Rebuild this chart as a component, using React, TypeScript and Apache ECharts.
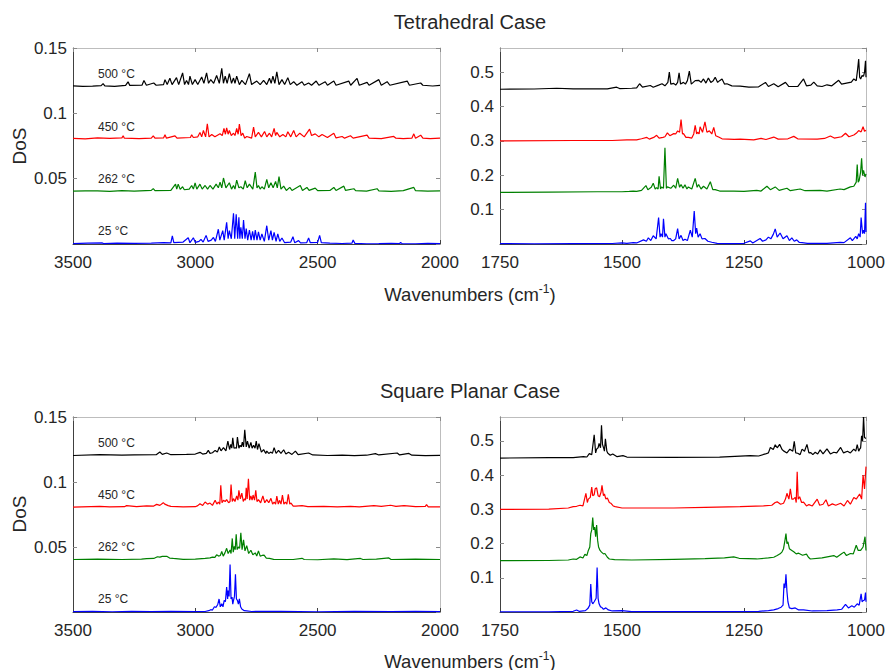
import { useEffect, useRef } from 'react';
import * as echarts from 'echarts';

const FONT = '"Liberation Sans", Arial, Helvetica, sans-serif';

const tempLabels = ['25 °C', '262 °C', '450 °C', '500 °C'];
const traceColors = ['#0000ff', '#008000', '#ff0000', '#000000'];
const offsetsCH = [0, 0.04, 0.08, 0.12];
const offsetsFP = [0, 0.15, 0.3, 0.45];
const xTicksCH = [3500, 3000, 2500, 2000];
const xTicksFP = [1750, 1500, 1250, 1000];
const yTicksCH = [0.05, 0.1, 0.15];
const yTicksFP = [0.1, 0.2, 0.3, 0.4, 0.5];
const titles = ['Tetrahedral Case', 'Square Planar Case'];

// ---------- Tetrahedral, C-H region (3500-2000) ----------
const tetCH25 = [[3500,0.0003],[3440,0.0006],[3380,0.0008],[3375,0.0003],[3320,0.0006],[3250,0.0005],[3180,0.0006],[3130,0.001],[3100,0.0008],[3094,0.0062],[3088,0.001],[3050,0.0015],[3029,0.0048],[3022,0.001],[3008,0.0048],[3000,0.0012],[2985,0.002],[2977,0.0036],[2968,0.0015],[2956,0.0066],[2948,0.002],[2935,0.003],[2926,0.005],[2918,0.002],[2906,0.0113],[2900,0.003],[2888,0.0102],[2882,0.003],[2872,0.0166],[2866,0.004],[2861,0.0102],[2853,0.004],[2844,0.0235],[2839,0.004],[2833,0.0228],[2827,0.004],[2822,0.0205],[2818,0.004],[2814,0.0128],[2808,0.004],[2803,0.0184],[2797,0.004],[2792,0.0118],[2786,0.003],[2779,0.0107],[2772,0.003],[2766,0.0097],[2760,0.003],[2755,0.0107],[2748,0.003],[2742,0.0092],[2735,0.003],[2728,0.0077],[2718,0.002],[2708,0.014],[2700,0.003],[2691,0.0102],[2685,0.003],[2678,0.0089],[2670,0.002],[2663,0.0077],[2655,0.002],[2646,0.0046],[2635,0.001],[2610,0.0015],[2601,0.0056],[2594,0.001],[2578,0.0026],[2570,0.0008],[2545,0.001],[2537,0.0046],[2530,0.001],[2500,0.0012],[2492,0.0066],[2485,0.001],[2450,0.0006],[2400,0.0004],[2360,0.0006],[2355,0.003],[2348,0.0005],[2300,0.0002],[2250,0.0003],[2200,0.0005],[2165,0.0004],[2161,0.0012],[2155,0.0003],[2100,0.0002],[2050,0.0005],[2000,0.0003]];
const tetCH262 = [[3500,0.0004],[3450,0.0007],[3400,0.0006],[3350,0.0003],[3300,0.0008],[3250,0.0004],[3180,0.001],[3172,0.0024],[3165,0.0008],[3100,0.001],[3081,0.0058],[3076,0.002],[3070,0.0058],[3062,0.0018],[3052,0.0038],[3045,0.0015],[3025,0.002],[3015,0.0048],[3008,0.002],[3001,0.0068],[2994,0.002],[2981,0.0058],[2972,0.002],[2960,0.0048],[2950,0.002],[2940,0.0048],[2928,0.002],[2915,0.0058],[2906,0.003],[2899,0.0074],[2892,0.003],[2885,0.0105],[2875,0.003],[2861,0.0069],[2852,0.002],[2844,0.0048],[2838,0.002],[2831,0.0089],[2822,0.003],[2814,0.0038],[2804,0.002],[2796,0.0084],[2788,0.003],[2779,0.0058],[2765,0.002],[2755,0.015],[2748,0.003],[2742,0.0048],[2735,0.002],[2728,0.0038],[2718,0.002],[2708,0.0095],[2700,0.003],[2691,0.0069],[2682,0.003],[2672,0.0079],[2665,0.003],[2658,0.0115],[2650,0.002],[2639,0.0043],[2628,0.001],[2614,0.0033],[2605,0.001],[2571,0.0048],[2562,0.001],[2544,0.0033],[2535,0.001],[2510,0.0028],[2500,0.0008],[2450,0.001],[2434,0.0033],[2425,0.001],[2393,0.0043],[2386,0.001],[2352,0.0023],[2345,0.0008],[2300,0.0005],[2257,0.0023],[2250,0.0006],[2200,0.0003],[2150,0.0008],[2107,0.0033],[2100,0.0008],[2050,0.0004],[2000,0.0006]];
const tetCH450 = [[3500,0.0008],[3450,0.0005],[3400,0.0012],[3350,0.0008],[3300,0.0012],[3295,0.0028],[3290,0.001],[3230,0.0007],[3180,0.001],[3172,0.0028],[3165,0.001],[3130,0.0012],[3124,0.0036],[3118,0.001],[3083,0.0028],[3075,0.001],[3020,0.0015],[3015,0.0036],[3008,0.0015],[2990,0.002],[2981,0.0054],[2974,0.002],[2967,0.0069],[2958,0.002],[2951,0.012],[2944,0.002],[2933,0.0038],[2920,0.002],[2899,0.0043],[2890,0.003],[2883,0.0084],[2877,0.004],[2872,0.0089],[2866,0.004],[2861,0.0069],[2853,0.003],[2844,0.0048],[2838,0.003],[2831,0.0084],[2825,0.004],[2820,0.0117],[2813,0.003],[2806,0.0048],[2798,0.001],[2790,0.0023],[2770,0.001],[2762,0.0094],[2755,0.002],[2742,0.0054],[2730,0.002],[2717,0.0061],[2708,0.002],[2697,0.0048],[2688,0.002],[2678,0.0084],[2672,0.003],[2667,0.0054],[2655,0.002],[2642,0.0038],[2630,0.002],[2622,0.0059],[2610,0.002],[2598,0.0069],[2588,0.002],[2573,0.0048],[2555,0.002],[2533,0.0079],[2525,0.003],[2510,0.0043],[2495,0.002],[2482,0.0038],[2460,0.0015],[2434,0.0048],[2425,0.0012],[2400,0.0023],[2390,0.001],[2366,0.0028],[2355,0.001],[2298,0.0033],[2290,0.001],[2240,0.0007],[2189,0.0023],[2180,0.001],[2150,0.0006],[2115,0.001],[2107,0.0043],[2100,0.001],[2079,0.0033],[2070,0.001],[2040,0.0006],[2000,0.001]];
const tetCH500 = [[3500,0.001],[3460,0.0006],[3420,0.0008],[3385,0.0012],[3377,0.0027],[3370,0.001],[3330,0.0007],[3285,0.0014],[3275,0.0041],[3268,0.0014],[3218,0.0015],[3210,0.0052],[3200,0.0015],[3170,0.0032],[3160,0.0015],[3130,0.002],[3124,0.0058],[3115,0.002],[3104,0.0068],[3095,0.002],[3077,0.0073],[3068,0.002],[3052,0.0109],[3044,0.002],[3036,0.0052],[3028,0.002],[3022,0.0084],[3012,0.002],[3001,0.0058],[2990,0.002],[2974,0.0078],[2965,0.003],[2954,0.0109],[2946,0.003],[2937,0.0058],[2925,0.003],[2913,0.009],[2902,0.003],[2892,0.0144],[2885,0.003],[2878,0.0084],[2870,0.003],[2861,0.0104],[2852,0.003],[2844,0.007],[2838,0.003],[2831,0.0084],[2820,0.002],[2810,0.0052],[2795,0.002],[2779,0.0104],[2770,0.002],[2749,0.0047],[2735,0.002],[2721,0.0052],[2708,0.002],[2697,0.0068],[2690,0.003],[2683,0.0084],[2675,0.003],[2667,0.0117],[2658,0.002],[2646,0.0058],[2635,0.002],[2622,0.0073],[2612,0.002],[2598,0.0042],[2585,0.0015],[2564,0.0042],[2555,0.0015],[2537,0.0032],[2525,0.0015],[2506,0.0047],[2495,0.0015],[2469,0.0042],[2460,0.0015],[2434,0.0047],[2425,0.0015],[2373,0.0047],[2365,0.0015],[2339,0.0068],[2330,0.0015],[2298,0.0037],[2290,0.0015],[2250,0.0058],[2240,0.0015],[2216,0.0042],[2205,0.0015],[2134,0.0047],[2125,0.0015],[2079,0.0032],[2070,0.0015],[2030,0.0009],[2000,0.0014]];

// ---------- Tetrahedral, fingerprint region (1750-1000) ----------
const tetFP25 = [[1750,0.001],[1680,0.0005],[1600,0.001],[1520,0.0015],[1500,0.003],[1490,0.002],[1477,0.004],[1470,0.003],[1456,0.012],[1450,0.008],[1446,0.018],[1441,0.01],[1436,0.024],[1430,0.015],[1425,0.077],[1422,0.02],[1420,0.03],[1417,0.02],[1415,0.073],[1412,0.02],[1410,0.03],[1405,0.015],[1401,0.016],[1398,0.01],[1394,0.01],[1390,0.015],[1386,0.045],[1383,0.015],[1379,0.025],[1375,0.01],[1371,0.014],[1366,0.01],[1360,0.04],[1356,0.02],[1352,0.096],[1349,0.03],[1347,0.046],[1344,0.02],[1340,0.03],[1336,0.015],[1330,0.016],[1324,0.008],[1316,0.005],[1305,0.002],[1280,0.001],[1250,0.002],[1237,0.009],[1232,0.003],[1217,0.016],[1212,0.008],[1205,0.012],[1200,0.02],[1195,0.015],[1190,0.028],[1186,0.044],[1182,0.02],[1176,0.032],[1170,0.015],[1162,0.024],[1157,0.01],[1152,0.018],[1147,0.008],[1142,0.012],[1137,0.005],[1131,0.004],[1120,0.002],[1080,0.002],[1053,0.005],[1045,0.004],[1032,0.018],[1028,0.01],[1021,0.022],[1018,0.015],[1015,0.03],[1012,0.02],[1010,0.077],[1007,0.03],[1005,0.04],[1003,0.03],[1001,0.12],[1000,0.035]];
const tetFP262 = [[1750,0.0],[1650,0.001],[1550,0.002],[1500,0.002],[1485,0.003],[1477,0.004],[1470,0.003],[1460,0.006],[1451,0.02],[1447,0.008],[1440,0.015],[1436,0.027],[1432,0.01],[1429,0.014],[1426,0.01],[1424,0.047],[1421,0.01],[1419,0.016],[1415,0.012],[1412,0.13],[1409,0.012],[1407,0.016],[1400,0.012],[1394,0.021],[1390,0.012],[1386,0.041],[1382,0.015],[1379,0.023],[1375,0.012],[1371,0.022],[1367,0.01],[1364,0.016],[1357,0.01],[1350,0.041],[1346,0.015],[1343,0.023],[1338,0.01],[1333,0.018],[1326,0.01],[1319,0.031],[1314,0.008],[1309,0.008],[1300,0.004],[1271,0.004],[1250,0.003],[1224,0.006],[1215,0.004],[1203,0.018],[1196,0.008],[1186,0.016],[1178,0.006],[1162,0.012],[1155,0.005],[1135,0.01],[1125,0.005],[1094,0.006],[1080,0.004],[1053,0.01],[1045,0.008],[1032,0.016],[1025,0.018],[1020,0.03],[1018,0.081],[1016,0.03],[1014,0.035],[1011,0.06],[1009,0.099],[1007,0.05],[1005,0.064],[1002,0.045],[1000,0.054]];
const tetFP450 = [[1750,0.0],[1600,0.001],[1520,0.001],[1490,0.003],[1470,0.003],[1460,0.006],[1449,0.01],[1444,0.005],[1435,0.01],[1429,0.016],[1424,0.008],[1416,0.01],[1412,0.012],[1407,0.023],[1402,0.015],[1394,0.021],[1390,0.02],[1386,0.029],[1382,0.025],[1379,0.062],[1376,0.02],[1374,0.021],[1369,0.01],[1364,0.01],[1357,0.008],[1353,0.02],[1350,0.045],[1347,0.02],[1345,0.025],[1342,0.02],[1340,0.041],[1335,0.025],[1330,0.055],[1326,0.025],[1321,0.029],[1316,0.02],[1312,0.039],[1308,0.015],[1302,0.011],[1295,0.006],[1270,0.004],[1258,0.005],[1230,0.003],[1215,0.007],[1205,0.004],[1189,0.011],[1180,0.005],[1160,0.006],[1148,0.013],[1140,0.006],[1100,0.005],[1085,0.007],[1073,0.014],[1065,0.008],[1050,0.012],[1042,0.022],[1035,0.012],[1025,0.017],[1020,0.022],[1015,0.03],[1010,0.026],[1006,0.041],[1003,0.028],[1000,0.031]];
const tetFP500 = [[1750,0.0],[1680,0.0008],[1634,0.003],[1600,0.001],[1530,0.001],[1511,0.006],[1505,0.002],[1480,0.003],[1470,0.004],[1464,0.016],[1458,0.006],[1442,0.011],[1436,0.006],[1425,0.012],[1418,0.016],[1412,0.01],[1406,0.02],[1403,0.05],[1400,0.015],[1394,0.017],[1390,0.012],[1386,0.02],[1383,0.048],[1380,0.015],[1374,0.02],[1370,0.015],[1366,0.025],[1362,0.053],[1358,0.015],[1354,0.02],[1350,0.025],[1343,0.026],[1338,0.02],[1333,0.03],[1328,0.018],[1323,0.033],[1318,0.02],[1313,0.025],[1309,0.035],[1304,0.02],[1300,0.025],[1295,0.03],[1290,0.015],[1285,0.016],[1275,0.01],[1258,0.009],[1240,0.006],[1220,0.007],[1206,0.02],[1200,0.008],[1189,0.016],[1180,0.007],[1165,0.02],[1158,0.008],[1140,0.008],[1128,0.03],[1122,0.01],[1113,0.012],[1107,0.021],[1100,0.01],[1090,0.008],[1080,0.013],[1070,0.01],[1056,0.026],[1050,0.015],[1040,0.018],[1030,0.021],[1025,0.03],[1020,0.025],[1017,0.06],[1015,0.088],[1013,0.035],[1011,0.03],[1008,0.04],[1005,0.038],[1003,0.05],[1001,0.083],[1000,0.035]];

// ---------- Square planar, C-H region (3500-2000) ----------
const sqCH25 = [[3500,0.0003],[3420,0.0005],[3340,0.0002],[3260,0.0005],[3180,0.0003],[3100,0.0005],[3000,0.0003],[2960,0.0004],[2945,0.001],[2937,0.0018],[2930,0.0015],[2922,0.004],[2915,0.0036],[2908,0.006],[2903,0.01],[2898,0.004],[2892,0.0064],[2887,0.004],[2882,0.0089],[2877,0.008],[2872,0.0192],[2868,0.01],[2866,0.0166],[2862,0.012],[2858,0.0365],[2854,0.01],[2850,0.0115],[2847,0.006],[2844,0.009],[2840,0.012],[2836,0.029],[2832,0.01],[2828,0.009],[2824,0.006],[2820,0.0102],[2815,0.004],[2810,0.0023],[2800,0.001],[2790,0.0008],[2770,0.0004],[2650,0.0005],[2500,0.0002],[2350,0.0005],[2200,0.0003],[2100,0.0005],[2000,0.0003]];
const sqCH262 = [[3500,0.0004],[3400,0.0007],[3300,0.0004],[3220,0.0006],[3199,0.001],[3170,0.0012],[3155,0.0025],[3145,0.0022],[3135,0.0028],[3117,0.0029],[3105,0.0015],[3090,0.0012],[3050,0.0005],[3000,0.0006],[2960,0.0012],[2940,0.0016],[2930,0.0022],[2920,0.002],[2913,0.004],[2905,0.003],[2898,0.0035],[2892,0.0065],[2886,0.003],[2879,0.0055],[2872,0.009],[2866,0.005],[2858,0.0077],[2854,0.005],[2849,0.0166],[2845,0.006],[2841,0.0105],[2837,0.008],[2833,0.0197],[2829,0.008],[2824,0.01],[2819,0.009],[2814,0.021],[2809,0.008],[2803,0.0155],[2797,0.007],[2790,0.0111],[2782,0.005],[2773,0.0075],[2765,0.004],[2755,0.0055],[2749,0.003],[2742,0.007],[2735,0.003],[2727,0.0035],[2719,0.0037],[2710,0.0015],[2697,0.0012],[2680,0.0005],[2600,0.0004],[2564,0.0013],[2555,0.0004],[2500,0.0002],[2434,0.0008],[2380,0.0003],[2325,0.0012],[2315,0.0004],[2260,0.0006],[2209,0.0016],[2200,0.0004],[2100,0.0006],[2000,0.0004]];
const sqCH450 = [[3500,0.0006],[3391,0.0013],[3350,0.0008],[3290,0.001],[3281,0.0018],[3240,0.001],[3199,0.0016],[3170,0.0015],[3158,0.0028],[3145,0.002],[3131,0.0041],[3125,0.003],[3111,0.0018],[3100,0.0012],[3050,0.0008],[3000,0.001],[2990,0.0018],[2981,0.0033],[2970,0.002],[2960,0.0046],[2950,0.003],[2940,0.0038],[2930,0.002],[2919,0.0059],[2912,0.003],[2906,0.0046],[2900,0.003],[2896,0.0174],[2891,0.004],[2885,0.0059],[2878,0.005],[2872,0.0064],[2864,0.004],[2858,0.005],[2854,0.0181],[2849,0.005],[2844,0.0072],[2838,0.005],[2831,0.0092],[2826,0.006],[2822,0.0136],[2816,0.007],[2810,0.0115],[2804,0.005],[2799,0.0072],[2795,0.006],[2792,0.0156],[2788,0.007],[2783,0.0225],[2778,0.006],[2773,0.0092],[2768,0.006],[2764,0.01],[2758,0.006],[2753,0.0136],[2748,0.005],[2742,0.0064],[2733,0.004],[2724,0.0092],[2716,0.004],[2708,0.0064],[2700,0.004],[2691,0.0074],[2684,0.003],[2678,0.0046],[2672,0.003],[2667,0.0092],[2661,0.003],[2656,0.0059],[2650,0.003],[2644,0.0099],[2638,0.003],[2632,0.0046],[2626,0.003],[2620,0.0105],[2614,0.003],[2609,0.0038],[2600,0.0015],[2590,0.0015],[2564,0.0018],[2540,0.001],[2475,0.0013],[2420,0.0008],[2366,0.0013],[2330,0.0008],[2270,0.0018],[2240,0.0012],[2202,0.0021],[2180,0.0012],[2147,0.0018],[2100,0.001],[2060,0.0012],[2055,0.0026],[2048,0.0009],[2000,0.0008]];
const sqCH500 = [[3500,0.0004],[3391,0.001],[3300,0.0006],[3250,0.0008],[3160,0.001],[3145,0.0031],[3135,0.0012],[3117,0.0023],[3100,0.001],[3036,0.0013],[3000,0.0015],[2981,0.0028],[2970,0.0015],[2955,0.002],[2947,0.0043],[2940,0.002],[2930,0.0025],[2919,0.0043],[2910,0.003],[2902,0.0069],[2895,0.004],[2885,0.0064],[2875,0.004],[2867,0.0115],[2860,0.005],[2855,0.009],[2851,0.006],[2847,0.014],[2842,0.006],[2837,0.0064],[2832,0.006],[2828,0.0145],[2822,0.006],[2817,0.0082],[2812,0.007],[2808,0.0107],[2803,0.007],[2798,0.0202],[2792,0.007],[2787,0.0115],[2780,0.006],[2773,0.0105],[2768,0.006],[2762,0.0082],[2756,0.006],[2751,0.0115],[2746,0.005],[2740,0.0095],[2730,0.003],[2721,0.0049],[2712,0.002],[2708,0.0038],[2700,0.002],[2691,0.003],[2685,0.002],[2678,0.0064],[2670,0.002],[2660,0.0043],[2650,0.002],[2639,0.0048],[2630,0.0015],[2619,0.0028],[2605,0.0012],[2591,0.0038],[2580,0.001],[2537,0.0023],[2520,0.0008],[2460,0.0004],[2400,0.0006],[2350,0.0003],[2300,0.0006],[2264,0.0018],[2250,0.0008],[2175,0.0023],[2165,0.0008],[2127,0.002],[2115,0.0006],[2060,0.0003],[2000,0.0005]];

// ---------- Square planar, fingerprint region (1750-1000) ----------
const sqFP25 = [[1750,0.0005],[1650,0.0005],[1600,0.002],[1593,0.006],[1588,0.002],[1575,0.004],[1570,0.01],[1566,0.02],[1564,0.082],[1562,0.03],[1560,0.024],[1557,0.03],[1555,0.035],[1553,0.04],[1551,0.13],[1549,0.04],[1547,0.024],[1544,0.015],[1542,0.014],[1538,0.008],[1533,0.012],[1528,0.006],[1520,0.003],[1500,0.004],[1480,0.001],[1300,0.001],[1220,0.002],[1200,0.004],[1189,0.006],[1180,0.01],[1174,0.014],[1170,0.02],[1168,0.083],[1166,0.07],[1164,0.11],[1162,0.06],[1160,0.03],[1157,0.012],[1152,0.01],[1145,0.012],[1138,0.006],[1128,0.006],[1110,0.003],[1080,0.004],[1059,0.006],[1050,0.008],[1042,0.022],[1036,0.012],[1029,0.018],[1024,0.014],[1018,0.024],[1014,0.02],[1010,0.053],[1008,0.03],[1006,0.033],[1003,0.035],[1001,0.057],[1000,0.03]];
const sqFP262 = [[1750,0.0],[1650,0.0005],[1610,0.002],[1600,0.005],[1593,0.004],[1586,0.011],[1580,0.008],[1576,0.019],[1572,0.015],[1569,0.03],[1566,0.04],[1564,0.079],[1562,0.09],[1560,0.126],[1558,0.09],[1556,0.098],[1554,0.07],[1552,0.104],[1550,0.06],[1548,0.04],[1545,0.03],[1542,0.025],[1538,0.02],[1535,0.021],[1530,0.01],[1526,0.005],[1515,0.003],[1480,0.002],[1394,0.004],[1330,0.006],[1290,0.008],[1271,0.011],[1260,0.007],[1224,0.005],[1200,0.008],[1189,0.01],[1182,0.015],[1176,0.02],[1172,0.026],[1169,0.035],[1166,0.06],[1164,0.079],[1162,0.05],[1160,0.055],[1157,0.035],[1152,0.03],[1148,0.026],[1143,0.02],[1138,0.022],[1130,0.016],[1122,0.019],[1118,0.01],[1114,0.005],[1090,0.008],[1066,0.015],[1060,0.01],[1050,0.02],[1045,0.025],[1040,0.015],[1032,0.021],[1026,0.02],[1020,0.045],[1016,0.03],[1011,0.03],[1006,0.04],[1002,0.07],[1000,0.03]];
const sqFP450 = [[1750,0.0],[1650,0.0005],[1610,0.004],[1600,0.008],[1593,0.009],[1586,0.012],[1580,0.01],[1574,0.047],[1571,0.02],[1569,0.03],[1565,0.035],[1562,0.065],[1560,0.04],[1557,0.043],[1555,0.06],[1552,0.063],[1549,0.04],[1546,0.037],[1543,0.05],[1541,0.07],[1538,0.04],[1536,0.045],[1533,0.03],[1530,0.033],[1526,0.02],[1523,0.018],[1518,0.01],[1514,0.008],[1500,0.004],[1450,0.004],[1394,0.004],[1330,0.006],[1258,0.008],[1210,0.01],[1193,0.012],[1186,0.02],[1182,0.022],[1175,0.015],[1169,0.018],[1165,0.03],[1162,0.047],[1158,0.03],[1155,0.06],[1152,0.03],[1149,0.03],[1145,0.035],[1143,0.02],[1141,0.11],[1139,0.03],[1136,0.037],[1132,0.02],[1128,0.021],[1122,0.01],[1117,0.014],[1110,0.01],[1100,0.03],[1095,0.012],[1088,0.015],[1082,0.028],[1077,0.01],[1069,0.016],[1062,0.012],[1052,0.018],[1045,0.01],[1038,0.026],[1032,0.015],[1025,0.035],[1020,0.03],[1013,0.045],[1009,0.03],[1006,0.1],[1003,0.06],[1000,0.125]];
const sqFP500 = [[1750,0.0],[1650,0.001],[1600,0.001],[1579,0.004],[1572,0.003],[1567,0.013],[1562,0.01],[1557,0.068],[1554,0.015],[1552,0.026],[1549,0.03],[1547,0.043],[1544,0.03],[1542,0.096],[1540,0.04],[1538,0.031],[1536,0.02],[1534,0.056],[1531,0.02],[1529,0.014],[1524,0.008],[1519,0.012],[1510,0.004],[1498,0.007],[1490,0.003],[1400,0.002],[1300,0.003],[1237,0.007],[1220,0.006],[1206,0.012],[1200,0.015],[1196,0.031],[1190,0.025],[1186,0.039],[1182,0.03],[1177,0.04],[1172,0.025],[1169,0.021],[1162,0.015],[1156,0.026],[1150,0.02],[1147,0.049],[1144,0.015],[1140,0.014],[1135,0.01],[1131,0.026],[1126,0.02],[1121,0.04],[1117,0.015],[1113,0.016],[1109,0.01],[1104,0.017],[1099,0.012],[1094,0.024],[1088,0.012],[1080,0.027],[1073,0.012],[1066,0.017],[1060,0.015],[1052,0.031],[1046,0.015],[1038,0.02],[1032,0.015],[1025,0.026],[1021,0.02],[1018,0.039],[1015,0.02],[1013,0.026],[1011,0.03],[1009,0.065],[1007,0.05],[1005,0.12],[1003,0.06],[1000,0.057]];

const panels = [
  { traces: [tetCH25, tetCH262, tetCH450, tetCH500], offsets: offsetsCH, kind: 'CH', left: 73, top: 48, width: 367, height: 196 },
  { traces: [tetFP25, tetFP262, tetFP450, tetFP500], offsets: offsetsFP, kind: 'FP', left: 500, top: 48, width: 366, height: 196 },
  { traces: [sqCH25, sqCH262, sqCH450, sqCH500], offsets: offsetsCH, kind: 'CH', left: 73, top: 417, width: 367, height: 195 },
  { traces: [sqFP25, sqFP262, sqFP450, sqFP500], offsets: offsetsFP, kind: 'FP', left: 500, top: 417, width: 366, height: 195 },
];

const AXIS_DARK = '#404040';
const AXIS_LIGHT = '#bdbdbd';
const LABEL = '#262626';

function fmt(v: number) {
  return String(Number(v.toFixed(2)));
}

export default function App() {
  const ref = useRef<HTMLDivElement>(null);
  useEffect(() => {
    if (!ref.current) return;
    const chart = echarts.init(ref.current, undefined, { renderer: 'svg' });

    const grid: any[] = [];
    const xAxis: any[] = [];
    const yAxis: any[] = [];
    const series: any[] = [];

    panels.forEach((p, i) => {
      grid.push({ left: p.left, top: p.top, width: p.width, height: p.height, containLabel: false });
      const isCH = p.kind === 'CH';
      const xt = isCH ? xTicksCH : xTicksFP;
      const yt = isCH ? yTicksCH : yTicksFP;
      const xMin = Math.min(...xt);
      const xMax = Math.max(...xt);
      const xInt = xt[0] - xt[1];
      const yMax = isCH ? 0.15 : 0.57;
      const yInt = yt[1] - yt[0];
      xAxis.push({
        gridIndex: i, type: 'value', position: 'bottom', inverse: true,
        min: xMin, max: xMax, interval: xInt,
        axisLine: { show: true, onZero: false, lineStyle: { color: AXIS_DARK, width: 1 } },
        axisTick: { show: true, inside: true, length: 4, lineStyle: { color: AXIS_DARK } },
        axisLabel: { show: true, fontSize: 17, color: LABEL, fontFamily: FONT, margin: 10, formatter: (v: number) => String(Math.round(v)) },
        splitLine: { show: false },
      });
      xAxis.push({
        gridIndex: i, type: 'value', position: 'top', inverse: true,
        min: xMin, max: xMax, interval: xInt,
        axisLine: { show: true, onZero: false, lineStyle: { color: AXIS_LIGHT, width: 1 } },
        axisTick: { show: true, inside: true, length: 4, lineStyle: { color: '#8a8a8a' } },
        axisLabel: { show: false },
        splitLine: { show: false },
      });
      yAxis.push({
        gridIndex: i, type: 'value', position: 'left',
        min: 0, max: yMax, interval: yInt,
        axisLine: { show: true, onZero: false, lineStyle: { color: AXIS_DARK, width: 1 } },
        axisTick: { show: true, inside: true, length: 4, lineStyle: { color: '#8a8a8a' } },
        axisLabel: {
          show: true, fontSize: 17, color: LABEL, fontFamily: FONT, margin: 6,
          showMinLabel: false, showMaxLabel: isCH,
          formatter: (v: number) => (v === 0 ? '' : fmt(v)),
        },
        splitLine: { show: false },
      });
      yAxis.push({
        gridIndex: i, type: 'value', position: 'right',
        min: 0, max: yMax, interval: yInt,
        axisLine: { show: true, onZero: false, lineStyle: { color: AXIS_LIGHT, width: 1 } },
        axisTick: { show: true, inside: true, length: 4, lineStyle: { color: '#8a8a8a' } },
        axisLabel: { show: false },
        splitLine: { show: false },
      });
      p.traces.forEach((tr, t) => {
        series.push({
          type: 'line',
          name: `${i}-${tempLabels[t]}`,
          xAxisIndex: i * 2,
          yAxisIndex: i * 2,
          showSymbol: false,
          symbol: 'none',
          silent: true,
          lineStyle: { color: traceColors[t], width: 1.2 },
          itemStyle: { color: traceColors[t] },
          data: tr.map(([x, y]) => [x, y + p.offsets[t]]),
          z: 2 + t,
        });
      });
    });

    const graphic: any[] = [];
    [22, 391].forEach((y, k) => {
      graphic.push({
        type: 'text', x: 470, y,
        style: { text: titles[k], fontSize: 20, fontFamily: FONT, fill: LABEL, align: 'center', verticalAlign: 'middle' },
      });
    });
    [294, 661].forEach((y) => {
      graphic.push({
        type: 'text', x: 470, y,
        style: {
          text: '{a|Wavenumbers (cm}{s|-1}{a|)}',
          align: 'center', verticalAlign: 'middle',
          rich: {
            a: { fontSize: 18.5, fontFamily: FONT, fill: LABEL, lineHeight: 23 },
            s: { fontSize: 12, fontFamily: FONT, fill: LABEL, lineHeight: 12, verticalAlign: 'top' },
          },
        },
      });
    });
    [146, 514].forEach((y) => {
      graphic.push({
        type: 'text', x: 19, y, rotation: Math.PI / 2,
        style: { text: 'DoS', fontSize: 19, fontFamily: FONT, fill: LABEL, align: 'center', verticalAlign: 'middle' },
      });
    });
    const tempY = [[231, 179, 127, 74], [599, 547, 495, 443]];
    tempY.forEach((ys) => {
      ys.forEach((y, t) => {
        graphic.push({
          type: 'text', x: 98, y,
          style: { text: tempLabels[t], fontSize: 12, fontFamily: FONT, fill: LABEL, align: 'left', verticalAlign: 'middle' },
        });
      });
    });

    chart.setOption({
      animation: false,
      backgroundColor: '#ffffff',
      grid, xAxis, yAxis, series, graphic,
    });
    return () => chart.dispose();
  }, []);

  return <div ref={ref} style={{ position: 'fixed', left: 0, top: 0, width: 888, height: 670 }} />;
}
